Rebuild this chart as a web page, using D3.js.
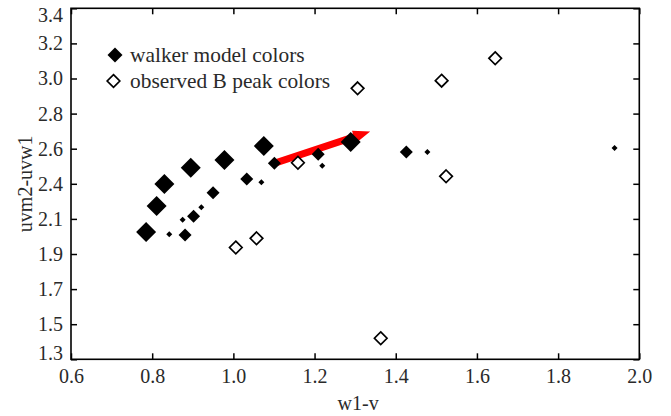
<!DOCTYPE html>
<html>
<head>
<meta charset="utf-8">
<script src="https://cdn.jsdelivr.net/npm/d3@7"></script>
</head>
<body style="margin:0">
<svg id="chart" width="671" height="416" font-family="Liberation Serif"></svg>
<script>
// Walker model colours (three marker sizes) and observed B-peak colours.
const modelLargeX  = [0.785, 0.811, 0.830, 0.895, 0.978, 1.075, 1.289];
const modelLargeY  = [2.062, 2.217, 2.349, 2.446, 2.492, 2.576, 2.600];
const modelMediumX = [0.881, 0.902, 0.950, 1.033, 1.101, 1.209, 1.426];
const modelMediumY = [2.044, 2.156, 2.297, 2.379, 2.473, 2.527, 2.541];
const modelSmallX  = [0.842, 0.875, 0.921, 1.069, 1.219, 1.478, 1.939];
const modelSmallY  = [2.048, 2.135, 2.209, 2.359, 2.458, 2.541, 2.564];
const observedX    = [1.006, 1.057, 1.159, 1.306, 1.513, 1.645, 1.524, 1.363];
const observedY    = [1.969, 2.024, 2.476, 2.921, 2.967, 3.101, 2.395, 1.426];

// Shift vector drawn as a red arrow (from -> to).
const arrowFrom = [1.106, 2.477];
const arrowTo   = [1.337, 2.663];

const xTickValues = [0.6, 0.8, 1.0, 1.2, 1.4, 1.6, 1.8, 2.0];
const xTickLabels = ["0.6", "0.8", "1.0", "1.2", "1.4", "1.6", "1.8", "2.0"];
const yTickValues = [1.3, 1.51, 1.72, 1.93, 2.14, 2.35, 2.56, 2.77, 2.98, 3.19, 3.4];
const yTickLabels = ["1.3", "1.5", "1.7", "1.9", "2.1", "2.4", "2.6", "2.8", "3.0", "3.2", "3.4"];

const legendLabels = ["walker model colors", "observed B peak colors"];
const xTitle = "w1-v";
const yTitle = "uvm2-uvw1";

const FONT = "Liberation Serif";
const TEXT_COLOR = "#2a2a2a";

const svg = d3.select("#chart");
const plotLeft = 71, plotRight = 639.3, plotTop = 8.3, plotBottom = 359.3;

const x = d3.scaleLinear().domain([0.6, 2.0]).range([plotLeft, plotRight]);
const y = d3.scaleLinear().domain([1.3, 3.4]).range([plotBottom, plotTop]);

// Diamond symbol sized by half-diagonal r (area = 2 r^2).
const diamond = {
  draw(ctx, size) {
    const r = Math.sqrt(size / 2);
    ctx.moveTo(0, -r); ctx.lineTo(r, 0); ctx.lineTo(0, r); ctx.lineTo(-r, 0); ctx.closePath();
  }
};
const diamondPath = r => d3.symbol().type(diamond).size(2 * r * r)();

const fontSize = 20;
const legendFontSize = 21.4;
const tickLen = 6;

function label(sel, size = fontSize) {
  return sel.attr("font-family", FONT).attr("font-size", size).attr("fill", TEXT_COLOR);
}

// Axes with inward ticks
const xAxis = d3.axisBottom(x).tickValues(xTickValues)
  .tickFormat((d, i) => xTickLabels[i]).tickSizeInner(-tickLen).tickSizeOuter(0).tickPadding(10);
const yAxis = d3.axisLeft(y).tickValues(yTickValues)
  .tickFormat((d, i) => yTickLabels[i]).tickSizeInner(-tickLen).tickSizeOuter(0).tickPadding(8);
const xAxisTop = d3.axisTop(x).tickValues(xTickValues).tickFormat("").tickSizeInner(-tickLen).tickSizeOuter(0);
const yAxisRight = d3.axisRight(y).tickValues(yTickValues).tickFormat("").tickSizeInner(-tickLen).tickSizeOuter(0);

function styleAxis(g) {
  g.attr("font-family", FONT).attr("font-size", fontSize);
  g.select(".domain").remove();
  g.selectAll(".tick line").attr("stroke", "#000").attr("stroke-width", 1.5);
  g.selectAll(".tick text").call(label);
}

svg.append("g").attr("transform", `translate(0,${plotBottom})`).call(xAxis).call(styleAxis);
const gy = svg.append("g").attr("transform", `translate(${plotLeft},0)`).call(yAxis).call(styleAxis);
svg.append("g").attr("transform", `translate(0,${plotTop})`).call(xAxisTop).call(styleAxis);
svg.append("g").attr("transform", `translate(${plotRight},0)`).call(yAxisRight).call(styleAxis);

// Keep the end labels of the y axis inside the frame height
gy.selectAll(".tick").each(function (d) {
  const py = y(d);
  const clamped = Math.max(plotTop + 7, Math.min(plotBottom - 6, py));
  d3.select(this).select("text").attr("y", clamped - py);
});

// Frame
svg.append("rect")
  .attr("x", plotLeft).attr("y", plotTop).attr("width", plotRight - plotLeft).attr("height", plotBottom - plotTop)
  .attr("fill", "none").attr("stroke", "#000").attr("stroke-width", 1.6);

// Axis titles
svg.append("text").attr("x", (plotLeft + plotRight) / 2 + 3).attr("y", 410)
  .attr("text-anchor", "middle").call(label).text(xTitle);
svg.append("text")
  .attr("transform", `translate(32,${(plotTop + plotBottom) / 2}) rotate(-90)`)
  .attr("text-anchor", "middle").call(label).text(yTitle);

const plot = svg.append("g");

// Red arrow
{
  const x0 = x(arrowFrom[0]), y0 = y(arrowFrom[1]);
  const x1 = x(arrowTo[0]), y1 = y(arrowTo[1]);
  const ang = Math.atan2(y1 - y0, x1 - x0);
  const len = Math.hypot(x1 - x0, y1 - y0);
  const shaftW = 7, headW = 13, headL = 17;
  const pts = [
    [0, -shaftW / 2], [len - headL, -shaftW / 2], [len - headL, -headW / 2],
    [len, 0], [len - headL, headW / 2], [len - headL, shaftW / 2], [0, shaftW / 2]
  ];
  plot.append("path")
    .attr("transform", `translate(${x0},${y0}) rotate(${ang * 180 / Math.PI})`)
    .attr("d", d3.line()(pts) + "Z")
    .attr("fill", "#ff0000");
}

function drawSeries(xs, ys, r, fill, stroke, sw) {
  plot.append("g").selectAll("path").data(xs.map((d, i) => [d, ys[i]])).join("path")
    .attr("transform", d => `translate(${x(d[0])},${y(d[1])})`)
    .attr("d", diamondPath(r))
    .attr("fill", fill).attr("stroke", stroke).attr("stroke-width", sw);
}

drawSeries(modelLargeX, modelLargeY, 10, "#000", "none", 0);
drawSeries(modelMediumX, modelMediumY, 6.5, "#000", "none", 0);
drawSeries(modelSmallX, modelSmallY, 3, "#000", "none", 0);
drawSeries(observedX, observedY, 6.3, "#fff", "#000", 1.7);

// Legend
const legend = svg.append("g");
legend.append("path").attr("transform", "translate(115,55)").attr("d", diamondPath(7.5)).attr("fill", "#000");
legend.append("path").attr("transform", "translate(113.5,81)").attr("d", diamondPath(6.3))
  .attr("fill", "#fff").attr("stroke", "#000").attr("stroke-width", 1.7);
legend.append("text").attr("x", 130).attr("y", 62).call(label, legendFontSize).text(legendLabels[0]);
legend.append("text").attr("x", 130).attr("y", 88).call(label, legendFontSize).text(legendLabels[1]);
</script>
</body>
</html>
